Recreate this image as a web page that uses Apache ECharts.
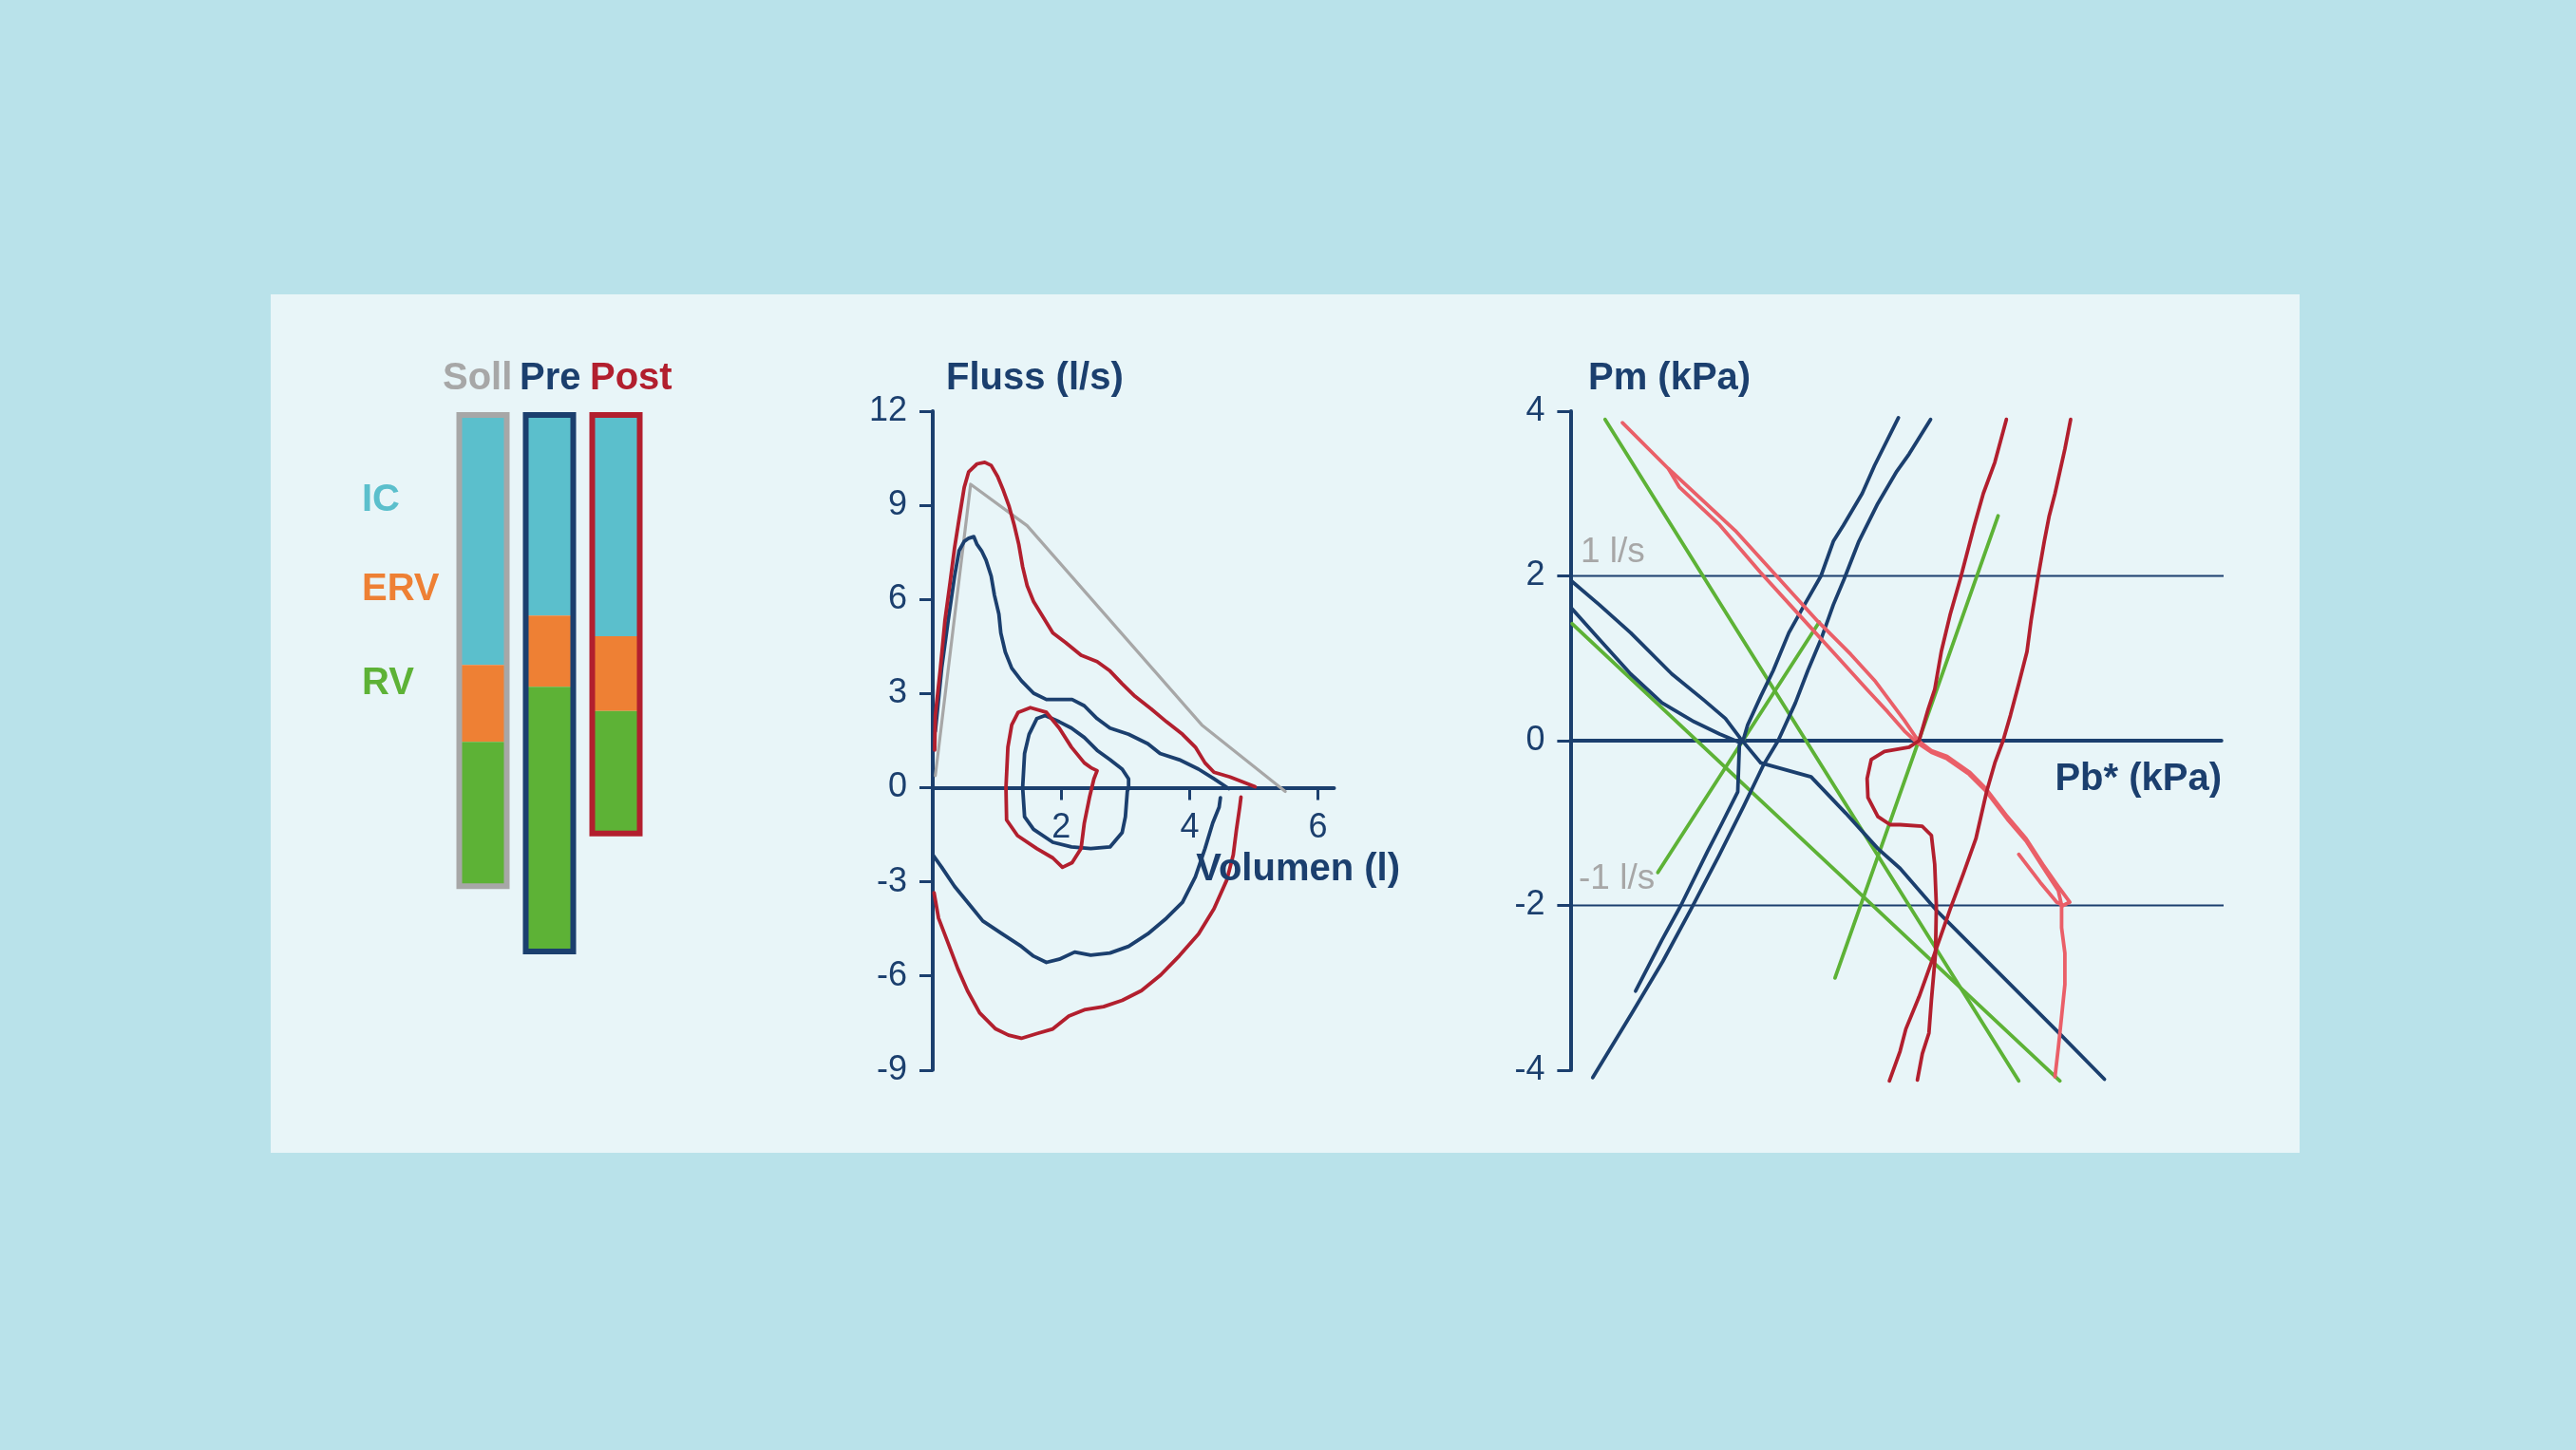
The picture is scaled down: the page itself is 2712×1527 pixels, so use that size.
<!DOCTYPE html>
<html><head><meta charset="utf-8">
<script src="https://cdn.jsdelivr.net/npm/echarts@6/dist/echarts.min.js"></script>
<style>html,body{margin:0;padding:0;background:#b9e2ea;}#c{width:2712px;height:1527px;}</style>
</head><body><div id="c"></div>
<script>
// ---------- Data ----------
const barCategories = ['Soll', 'Pre', 'Post'];
const icValues  = [3.90, 3.13, 3.45];
const ervValues = [1.20, 1.11, 1.17];
const rvValues  = [2.25, 4.13, 1.91];
const volumeLabels = ['IC', 'ERV', 'RV'];

const flowTicks = [12, 9, 6, 3, 0, -3, -6, -9];
const volumeTicks = [2, 4, 6];
const pressureTicks = [4, 2, 0, -2, -4];
const flowLevels = [2, -2];
const flowLevelLabels = ['1 l/s', '-1 l/s'];

// Flow-volume curves (Volumen l, Fluss l/s)
const sollPredicted = [[0.04,0.38],[0.59,9.67],[1.47,8.35],[4.19,2.0],[5.49,-0.12]];
const postExpiration = [[0.03,1.2],[0.04,2.3],[0.12,3.82],[0.19,5.33],[0.27,6.54],[0.34,7.65],[0.41,8.56],[0.49,9.57],[0.56,10.07],[0.69,10.32],[0.81,10.37],[0.91,10.27],[1.01,9.92],[1.10,9.47],[1.19,8.96],[1.27,8.36],[1.34,7.75],[1.40,7.04],[1.47,6.44],[1.57,5.93],[1.72,5.43],[1.87,4.93],[2.07,4.62],[2.31,4.22],[2.56,4.02],[2.76,3.72],[2.95,3.31],[3.15,2.91],[3.40,2.51],[3.64,2.10],[3.89,1.70],[4.09,1.29],[4.24,0.79],[4.38,0.49],[4.63,0.34],[4.83,0.18],[5.02,0.03]];
const preExpiration = [[0.04,1.8],[0.14,3.82],[0.24,5.33],[0.34,6.74],[0.41,7.55],[0.49,7.85],[0.56,7.95],[0.64,8.0],[0.69,7.75],[0.76,7.55],[0.83,7.25],[0.91,6.74],[0.96,6.14],[1.03,5.53],[1.06,4.93],[1.13,4.32],[1.23,3.81],[1.38,3.41],[1.57,3.01],[1.77,2.81],[1.97,2.81],[2.17,2.81],[2.36,2.61],[2.56,2.20],[2.76,1.90],[3.05,1.70],[3.35,1.40],[3.54,1.09],[3.84,0.89],[4.14,0.59],[4.38,0.28],[4.61,-0.03]];
const postTidal = [[2.46,0.64],[2.36,0.79],[2.16,1.29],[1.97,1.90],[1.77,2.40],[1.52,2.55],[1.33,2.40],[1.23,2.0],[1.17,1.29],[1.14,0],[1.15,-1.03],[1.32,-1.53],[1.62,-1.94],[1.87,-2.24],[2.02,-2.54],[2.17,-2.39],[2.31,-1.94],[2.36,-1.13],[2.44,-0.32],[2.51,0.28],[2.56,0.54],[2.46,0.64]];
const preTidal = [[3.05,0.28],[3.05,0],[3.03,-0.12],[3.0,-0.93],[2.95,-1.43],[2.76,-1.89],[2.46,-1.94],[2.16,-1.89],[1.87,-1.74],[1.57,-1.33],[1.43,-0.93],[1.40,0],[1.43,1.09],[1.50,1.70],[1.62,2.20],[1.75,2.30],[1.97,2.10],[2.16,1.90],[2.36,1.60],[2.56,1.19],[2.76,0.89],[2.95,0.59],[3.05,0.28]];
const postInspiration = [[0.02,-3.35],[0.09,-4.16],[0.24,-4.96],[0.39,-5.77],[0.54,-6.47],[0.73,-7.18],[0.98,-7.69],[1.18,-7.89],[1.38,-7.99],[1.62,-7.84],[1.87,-7.69],[2.12,-7.28],[2.36,-7.08],[2.66,-6.98],[2.95,-6.78],[3.25,-6.47],[3.55,-5.97],[3.84,-5.36],[4.14,-4.66],[4.38,-3.86],[4.58,-2.94],[4.68,-2.14],[4.73,-1.33],[4.78,-0.63],[4.80,-0.30]];
const preInspiration = [[0.0,-2.14],[0.14,-2.54],[0.34,-3.15],[0.54,-3.65],[0.78,-4.25],[1.08,-4.66],[1.38,-5.06],[1.57,-5.37],[1.77,-5.57],[1.97,-5.47],[2.21,-5.24],[2.46,-5.34],[2.76,-5.27],[3.05,-5.06],[3.35,-4.66],[3.64,-4.16],[3.89,-3.65],[4.09,-2.84],[4.24,-1.94],[4.36,-1.13],[4.46,-0.62],[4.48,-0.32]];

// Pressure curves (Pb* kPa, Pm kPa)
const sollLineA = [[0.42,3.9],[5.44,-4.13]];
const sollLineB = [[0.02,1.42],[5.94,-4.13]];
const sollLineC = [[1.06,-1.6],[3.02,1.44]];
const sollLineD = [[3.21,-2.88],[5.19,2.73]];
const preLoopA = [[0.79,-3.04],[1.11,-2.42],[1.34,-2.0],[1.66,-1.35],[1.84,-1.0],[2.03,-0.62],[2.05,-0.05],[2.10,0.02],[2.15,0.19],[2.31,0.54],[2.46,0.85],[2.65,1.31],[2.84,1.65],[3.04,2.0],[3.19,2.42],[3.31,2.61],[3.54,3.0],[3.69,3.34],[3.98,3.92]];
const preLoopB = [[0.27,-4.09],[0.75,-3.30],[1.12,-2.68],[1.46,-2.05],[1.80,-1.40],[2.10,-0.80],[2.34,-0.30],[2.52,0.0],[2.73,0.46],[2.88,0.85],[3.04,1.23],[3.19,1.65],[3.32,1.96],[3.50,2.42],[3.73,2.88],[3.96,3.27],[4.11,3.48],[4.37,3.90]];
const preLoopC = [[0.01,1.94],[0.35,1.65],[0.73,1.31],[1.23,0.81],[1.61,0.50],[1.88,0.27],[2.06,0.03],[2.31,-0.27],[2.38,-0.29],[2.92,-0.44],[3.34,-0.88],[3.73,-1.31],[4.0,-1.55],[4.46,-2.08],[5.15,-2.77],[5.92,-3.54],[6.48,-4.11]];
const preLoopD = [[0.01,1.61],[0.35,1.23],[0.73,0.81],[1.11,0.46],[1.50,0.23],[1.81,0.08],[2.05,-0.02]];
const postLoopA = [[4.21,-4.12],[4.27,-3.80],[4.35,-3.55],[4.38,-3.15],[4.43,-2.58],[4.44,-2.0],[4.42,-1.50],[4.38,-1.15],[4.27,-1.04],[4.0,-1.02],[3.88,-1.02],[3.73,-0.92],[3.61,-0.69],[3.60,-0.46],[3.65,-0.23],[3.81,-0.13],[4.11,-0.08],[4.23,0.0],[4.34,0.38],[4.42,0.62],[4.50,1.08],[4.61,1.54],[4.73,1.96],[4.90,2.61],[5.01,3.0],[5.15,3.38],[5.29,3.90]];
const postLoopB = [[3.87,-4.13],[4.0,-3.77],[4.07,-3.50],[4.23,-3.11],[4.42,-2.58],[4.61,-2.04],[4.77,-1.61],[4.92,-1.19],[5.05,-0.62],[5.15,-0.27],[5.25,0.0],[5.34,0.31],[5.44,0.69],[5.54,1.08],[5.59,1.46],[5.67,1.96],[5.75,2.42],[5.81,2.73],[5.88,3.0],[6.0,3.54],[6.07,3.90]];
const postRestA = [[0.63,3.86],[1.19,3.30],[1.6,2.92],[2.0,2.55],[2.5,2.0],[3.0,1.45],[3.4,1.05],[3.7,0.72],[3.9,0.45],[4.05,0.25],[4.22,0.0],[4.38,-0.12],[4.57,-0.19],[4.84,-0.38],[5.04,-0.58],[5.30,-0.92],[5.53,-1.19],[5.73,-1.50],[5.92,-1.77],[6.06,-1.96],[5.98,-2.0],[5.90,-1.96],[5.70,-1.72],[5.44,-1.38]];
const postRestB = [[1.19,3.30],[1.32,3.08],[1.8,2.63],[2.3,2.05],[2.8,1.50],[3.3,0.95],[3.6,0.62],[3.85,0.35],[4.05,0.12],[4.2,-0.02],[4.38,-0.14],[4.57,-0.22],[4.84,-0.41],[5.04,-0.61],[5.30,-0.95],[5.53,-1.22],[5.73,-1.53],[5.92,-1.82],[5.96,-2.0],[5.96,-2.27],[6.0,-2.58],[6.0,-2.96],[5.96,-3.35],[5.92,-3.73],[5.88,-4.08]];

// ---------- Styles ----------
const NAVY = '#1b3f6e', RED = '#b21f2e', SALMON = '#ea5f68', GREEN = '#5db236', GRAY = '#a7a7a7';
const CYAN = '#5bbfcc', ORANGE = '#ee8034';
const FONT = '"Liberation Sans", Arial, Helvetica, sans-serif';
const barBorderColors = [GRAY, NAVY, RED];
const volumeColors = [CYAN, ORANGE, GREEN];
const CURVE_W = 3.8;

function txt(x, y, text, size, color, align, bold) {
  return { type: 'text', x: x, y: y, z: 50, silent: true,
    style: { text: text, x: 0, y: 0, fill: color, font: (bold ? 'bold ' : '') + size + 'px ' + FONT,
      align: align, verticalAlign: 'middle', textAlign: align, textVerticalAlign: 'middle' } };
}
function line(name, data, color, xi, width) {
  return { name: name, type: 'line', xAxisIndex: xi, yAxisIndex: xi, data: data, symbol: 'none', showSymbol: false,
    smooth: false, clip: false, silent: true, animation: false, lineStyle: { color: color, width: width || CURVE_W, cap: 'round', join: 'round' } };
}
function valueAxisBase(grid) {
  return { gridIndex: grid, type: 'value', splitLine: { show: false },
    axisLine: { show: true, onZero: true, lineStyle: { color: NAVY, width: 4 } },
    axisTick: { show: true, inside: false, lineStyle: { color: NAVY, width: 3 } },
    axisLabel: { show: true, color: NAVY, fontSize: 36, fontFamily: FONT } };
}

const totals = icValues.map((v, i) => v + ervValues[i] + rvValues[i]);
const pbMax = 7.9;
const flowMin = -9, flowMax = 12, flowPx = 33.04;
const volMax = 6.25;

const xMid = valueAxisBase(1);
Object.assign(xMid, { min: 0, max: volMax, offset: flowMin * flowPx });
xMid.axisLine.onZero = false;
xMid.axisTick.length = 13; xMid.axisTick.customValues = volumeTicks;
xMid.axisLabel.customValues = volumeTicks; xMid.axisLabel.margin = 25;
const yMid = valueAxisBase(1);
Object.assign(yMid, { min: flowMin, max: flowMax, interval: 3 });
yMid.axisTick.length = 14; yMid.axisTick.customValues = flowTicks;
yMid.axisLabel.customValues = flowTicks; yMid.axisLabel.margin = 27;

const xRight = valueAxisBase(2);
Object.assign(xRight, { min: 0, max: pbMax });
xRight.axisTick.show = false; xRight.axisLabel.show = false;
const yRight = valueAxisBase(2);
Object.assign(yRight, { min: -4, max: 4, interval: 2 });
yRight.axisTick.length = 14; yRight.axisTick.customValues = pressureTicks;
yRight.axisLabel.customValues = pressureTicks; yRight.axisLabel.margin = 27;

const series = [];
volumeLabels.forEach((lab, k) => {
  const vals = [icValues, ervValues, rvValues][k];
  series.push({ name: lab, type: 'bar', stack: 'vol', xAxisIndex: 0, yAxisIndex: 0, barWidth: 46,
    data: vals, itemStyle: { color: volumeColors[k] }, silent: true, animation: false });
});
series.push({ name: 'Rahmen', type: 'custom', xAxisIndex: 0, yAxisIndex: 0, z: 3, silent: true, animation: false,
  data: totals.map((t, i) => [i, t]),
  renderItem: function (params, api) {
    const i = api.value(0);
    const p0 = api.coord([i, 0]);
    const p1 = api.coord([i, api.value(1)]);
    return { type: 'rect', shape: { x: p0[0] - 25, y: p0[1], width: 50, height: p1[1] - p0[1] },
      style: { fill: 'none', stroke: barBorderColors[i], lineWidth: 6 } };
  } });

series.push(line('Soll', sollPredicted, GRAY, 1, 3.2));
series.push(line('Pre Exp', preExpiration, NAVY, 1));
series.push(line('Pre Insp', preInspiration, NAVY, 1));
series.push(line('Pre Tidal', preTidal, NAVY, 1));
series.push(line('Post Exp', postExpiration, RED, 1));
series.push(line('Post Insp', postInspiration, RED, 1));
series.push(line('Post Tidal', postTidal, RED, 1));

flowLevels.forEach((lv, i) => series.push(line(flowLevelLabels[i], [[0, lv], [pbMax + 0.04, lv]], NAVY, 2, 2.2)));
[sollLineA, sollLineB, sollLineC, sollLineD].forEach((d, i) => series.push(line('Soll ' + i, d, GREEN, 2)));
[preLoopA, preLoopB, preLoopC, preLoopD].forEach((d, i) => series.push(line('Pre ' + i, d, NAVY, 2)));
[postRestA, postRestB].forEach((d, i) => series.push(line('Post R ' + i, d, SALMON, 2)));
[postLoopA, postLoopB].forEach((d, i) => series.push(line('Post L ' + i, d, RED, 2)));

const option = {
  backgroundColor: '#b9e2ea',
  animation: false,
  grid: [
    { left: 473.5, top: 437, width: 210, height: 607.5, outerBoundsMode: 'none', containLabel: false },
    { left: 982, top: 433, width: volMax * 67.6, height: (flowMax - flowMin) * flowPx, outerBoundsMode: 'none', containLabel: false },
    { left: 1653.4, top: 433, width: pbMax * 86.75, height: 8 * 86.75, outerBoundsMode: 'none', containLabel: false }
  ],
  xAxis: [
    { gridIndex: 0, type: 'category', data: barCategories, show: false },
    xMid, xRight
  ],
  yAxis: [
    { gridIndex: 0, type: 'value', inverse: true, min: 0, max: 9, show: false },
    yMid, yRight
  ],
  graphic: [
    { type: 'rect', z: -100, silent: true, shape: { x: 285, y: 310, width: 2136, height: 904 }, style: { fill: '#e8f5f8' } },
    txt(466, 399, barCategories[0], 40, GRAY, 'left', true),
    txt(547, 399, barCategories[1], 40, NAVY, 'left', true),
    txt(621, 399, barCategories[2], 40, RED, 'left', true),
    txt(381, 527, volumeLabels[0], 40, CYAN, 'left', true),
    txt(381, 621, volumeLabels[1], 40, ORANGE, 'left', true),
    txt(381, 720, volumeLabels[2], 40, GREEN, 'left', true),
    txt(996, 399, 'Fluss (l/s)', 40, NAVY, 'left', true),
    txt(1474, 916, 'Volumen (l)', 40, NAVY, 'right', true),
    txt(1672, 399, 'Pm (kPa)', 40, NAVY, 'left', true),
    txt(2339, 821, 'Pb* (kPa)', 40, NAVY, 'right', true),
    txt(1664, 582, flowLevelLabels[0], 37, GRAY, 'left', false),
    txt(1662, 926, flowLevelLabels[1], 37, GRAY, 'left', false)
  ],
  series: series
};
const chart = echarts.init(document.getElementById('c'), null, { renderer: 'canvas', width: 2712, height: 1527 });
chart.setOption(option);
</script></body></html>
